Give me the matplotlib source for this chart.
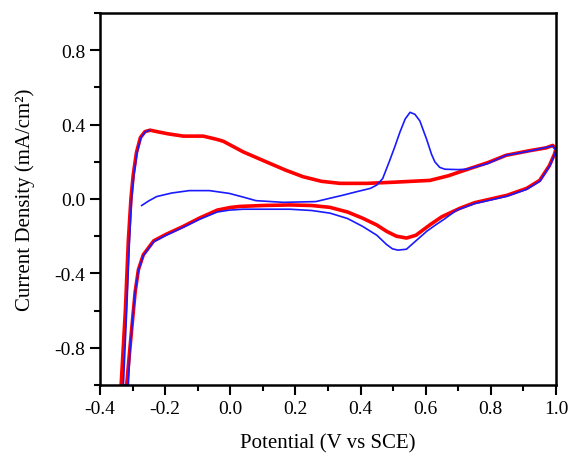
import matplotlib
matplotlib.use("Agg")
import matplotlib.pyplot as plt
from matplotlib.ticker import MultipleLocator

# Red curve (thick), one CV cycle: potential (V) and current density (mA/cm2)
red_v = [-0.335, -0.322, -0.313, -0.305, -0.298, -0.288, -0.276, -0.262, -0.246, -0.225,
         -0.19, -0.144, -0.083, -0.04, -0.021, 0.04, 0.11, 0.17, 0.223, 0.28,
         0.337, 0.419, 0.5, 0.613, 0.67, 0.705, 0.79, 0.847, 0.92, 0.97,
         0.99, 1.0, 0.995, 0.98, 0.95, 0.91, 0.85, 0.8, 0.75, 0.705,
         0.65, 0.613, 0.57, 0.541, 0.51, 0.48, 0.45, 0.406, 0.36, 0.306,
         0.25, 0.183, 0.1, 0.03, -0.001, -0.04, -0.095, -0.144, -0.197, -0.235,
         -0.267, -0.282, -0.292, -0.3, -0.309, -0.318]
red_i = [-1.0, -0.6, -0.227, 0.0, 0.128, 0.25, 0.33, 0.362, 0.37, 0.362,
         0.35, 0.338, 0.338, 0.32, 0.31, 0.253, 0.20, 0.155, 0.12, 0.095,
         0.084, 0.084, 0.09, 0.10, 0.125, 0.146, 0.195, 0.235, 0.26, 0.275,
         0.288, 0.27, 0.24, 0.18, 0.1, 0.057, 0.02, 0.0, -0.02, -0.05,
         -0.095, -0.139, -0.195, -0.21, -0.2, -0.174, -0.14, -0.103, -0.07, -0.045,
         -0.035, -0.032, -0.035, -0.04, -0.046, -0.06, -0.103, -0.147, -0.19, -0.225,
         -0.3, -0.38, -0.5, -0.65, -0.82, -1.0]

# Blue curve (thin), with the oxidation peak near 0.55 V
blue_v = [-0.272, -0.25, -0.226, -0.18, -0.126, -0.064, -0.003, 0.04, 0.079, 0.163,
          0.263, 0.306, 0.345, 0.39, 0.43, 0.45, 0.468, 0.488, 0.505, 0.521,
          0.537, 0.552, 0.567, 0.582, 0.603, 0.618, 0.628, 0.643, 0.659, 0.7,
          0.726, 0.79, 0.847, 0.92, 0.99, 1.0, 0.995, 0.98, 0.95, 0.91,
          0.85, 0.8, 0.75, 0.695, 0.654, 0.63, 0.603, 0.57, 0.541, 0.515,
          0.498, 0.48, 0.45, 0.406, 0.36, 0.306, 0.25, 0.183, 0.1, 0.04,
          -0.003, -0.04, -0.095, -0.144, -0.197, -0.235, -0.267, -0.282, -0.292, -0.3,
          -0.308, -0.313, -0.328, -0.318, -0.31, -0.303, -0.296, -0.286, -0.274, -0.26,
          -0.248]
blue_i = [-0.035, -0.01, 0.013, 0.032, 0.045, 0.045, 0.03, 0.01, -0.009, -0.018,
          -0.014, 0.004, 0.02, 0.04, 0.057, 0.075, 0.11, 0.2, 0.28, 0.36,
          0.43, 0.466, 0.455, 0.42, 0.32, 0.24, 0.20, 0.17, 0.16, 0.158,
          0.16, 0.19, 0.235, 0.258, 0.285, 0.26, 0.235, 0.175, 0.095, 0.052,
          0.015, -0.005, -0.025, -0.06, -0.112, -0.14, -0.174, -0.225, -0.27, -0.275,
          -0.268, -0.245, -0.195, -0.147, -0.105, -0.076, -0.062, -0.055, -0.055, -0.055,
          -0.06, -0.07, -0.11, -0.152, -0.195, -0.23, -0.305, -0.385, -0.5, -0.65,
          -0.82, -1.0, -1.0, -0.6, -0.25, 0.0, 0.128, 0.25, 0.33, 0.362,
          0.37]

plt.rcParams["font.family"] = ["Liberation Serif", "DejaVu Serif"]

fig = plt.figure(figsize=(5.7, 4.6), dpi=100)
ax = fig.add_axes([0.1754, 0.1609, 0.80, 0.8087])

ax.plot(red_v, red_i, color="#ff0000", linewidth=2.6, solid_joinstyle="round")
ax.plot(blue_v, blue_i, color="#1a1aff", linewidth=1.2, solid_joinstyle="round")

ax.set_xlim(-0.4, 1.0)
ax.set_ylim(-1.0, 1.0)
ax.xaxis.set_major_locator(MultipleLocator(0.2))
ax.xaxis.set_minor_locator(MultipleLocator(0.1))
ax.set_yticks([-0.8, -0.4, 0.0, 0.4, 0.8])
ax.yaxis.set_minor_locator(MultipleLocator(0.2))
ax.xaxis.set_major_formatter(plt.FormatStrFormatter("%.1f"))
ax.yaxis.set_major_formatter(plt.FormatStrFormatter("%.1f"))

for s in ax.spines.values():
    s.set_linewidth(1.8)
ax.tick_params(which="major", direction="out", length=7, width=1.5, labelsize=14)
ax.tick_params(which="minor", direction="out", length=4.5, width=1.5)

ax.set_xlabel("Potential (V vs SCE)", fontsize=15, labelpad=12)
ax.set_ylabel("Current Density (mA/cm²)", fontsize=15, labelpad=14)

fig.savefig("out.png", dpi=100)
